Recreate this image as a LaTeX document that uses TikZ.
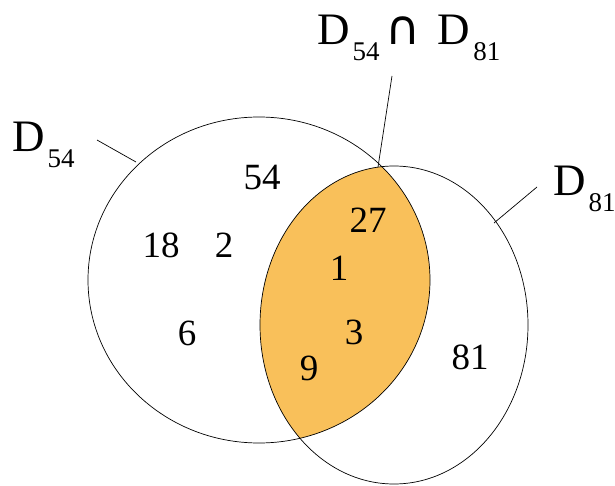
\documentclass[tikz,border=0pt]{standalone}
\usepackage{fontspec}
\setmainfont{Liberation Serif}
\newfontfamily\capfont{DejaVu Sans}
\definecolor{lensfill}{RGB}{249,192,90}
\newcommand\Dlab[1]{D\kern3pt\raisebox{-16pt}{\fontsize{27}{27}\selectfont #1}}
\tikzset{
  num/.style={font=\fontsize{37}{37}\selectfont, inner sep=0pt},
  setlab/.style={font=\fontsize{45}{45}\selectfont, inner sep=0pt, anchor=base west},
  rim/.style={draw=black, line width=0.7pt},
  leader/.style={draw=black, line width=0.7pt},
}
\begin{document}
\begin{tikzpicture}[x=1pt,y=-1pt]
\useasboundingbox (0,0) rectangle (615,486);
% lens
\begin{scope}
  \clip (259,280) ellipse [x radius=171, y radius=163];
  \fill[lensfill] (394,325) ellipse [x radius=134, y radius=159];
\end{scope}
\draw[rim] (259,280) ellipse [x radius=171, y radius=163];
\draw[rim] (394,325) ellipse [x radius=134, y radius=159];
% numbers
\node[num] (n54) at (262,178) {54};
\node[num] (n27) at (368,220) {27};
\node[num] (n18) at (161,245) {18};
\node[num] (n2)  at (224,245) {2};
\node[num] (n1)  at (339,268) {1};
\node[num] (n6)  at (187,333) {6};
\node[num] (n3)  at (354,332) {3};
\node[num] (n9)  at (309,368) {9};
\node[num] (n81) at (470,357) {81};
% labels
\node[setlab] (lA) at (12,152) {\Dlab{54}};
\node[setlab] (lB) at (553,196) {\Dlab{81}};
\node[setlab] (lAB) at (317,45) {\Dlab{54}\hspace{6pt}{\capfont\fontsize{48}{48}\selectfont ∩}\hspace{17pt}\Dlab{81}};
% leaders
\coordinate (a1) at (97,140);  \coordinate (a2) at (136,162);
\coordinate (b1) at (537,187); \coordinate (b2) at (494,223);
\coordinate (c1) at (392,76);  \coordinate (c2) at (378,167);
\draw[leader] (a1) -- (a2);
\draw[leader] (b1) -- (b2);
\draw[leader] (c1) -- (c2);
\end{tikzpicture}
\end{document}
